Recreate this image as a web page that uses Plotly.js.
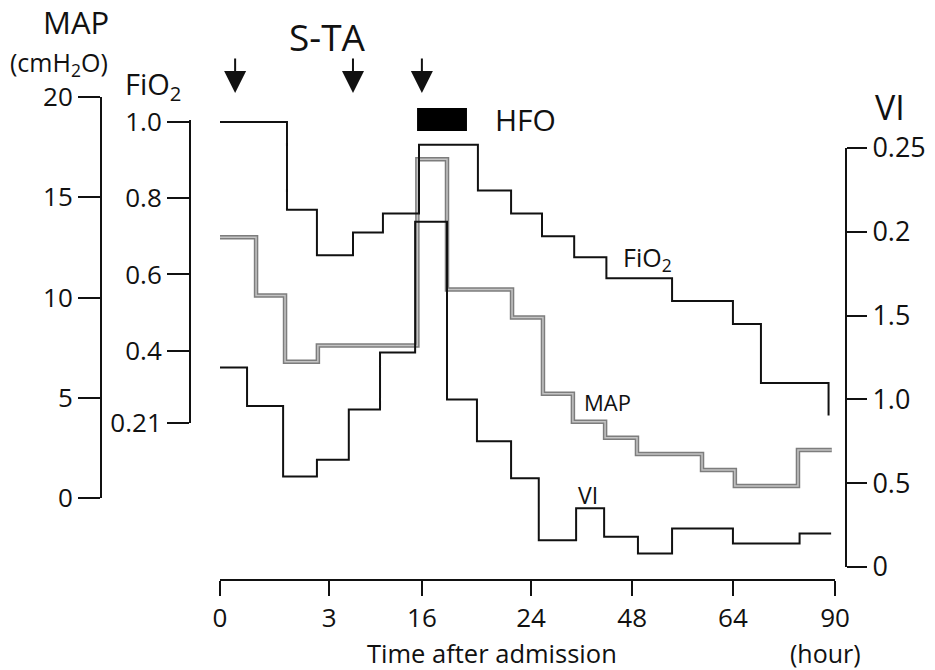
<!DOCTYPE html>
<html>
<head>
<meta charset="utf-8">
<script src="https://cdn.plot.ly/plotly-3.0.1.min.js"></script>
<style>html,body{margin:0;padding:0;background:#fff}#chart{width:935px;height:670px}</style>
</head>
<body>
<div id="chart"></div>
<script>
// ---- Data (x in sampling-slot units along the time axis) ----
const timeTickPos = [0, 3.39, 6.27, 9.66, 12.8, 15.93, 19.1];
const timeTickLabels = ['0', '3', '16', '24', '48', '64', '90'];

const fio2X = [0, 2.08, 3.01, 4.13, 5.06, 6.18, 8.01, 9.04, 10.0, 11.0, 12.0, 14.04, 15.93, 16.8, 18.9];
const fio2Y = [1.0, 0.77, 0.65, 0.71, 0.76, 0.94, 0.82, 0.76, 0.70, 0.645, 0.59, 0.53, 0.47, 0.315, 0.23];

const mapX = [0, 1.12, 2.02, 3.04, 6.13, 7.05, 9.07, 10.03, 10.96, 11.96, 12.95, 14.97, 15.99, 17.95, 19.0];
const mapY = [13.0, 10.1, 6.8, 7.6, 16.9, 10.4, 9.0, 5.2, 3.8, 3.0, 2.2, 1.4, 0.6, 2.4, 2.4];

const viX = [0, 0.84, 1.96, 3.01, 4.0, 4.97, 6.06, 7.05, 7.98, 9.04, 9.9, 11.06, 11.93, 12.98, 14.04, 15.93, 18.0, 18.98];
const viY = [1.19, 0.96, 0.54, 0.64, 0.94, 1.28, 2.06, 1.0, 0.75, 0.53, 0.16, 0.35, 0.18, 0.08, 0.23, 0.14, 0.20, 0.20];

const mapTicks = [0, 5, 10, 15, 20];
const mapTickLabels = ['0', '5', '10', '15', '20'];
const fio2Ticks = [0.21, 0.4, 0.6, 0.8, 1.0];
const fio2TickLabels = ['0.21', '0.4', '0.6', '0.8', '1.0'];
const viTicks = [0, 0.5, 1.0, 1.5, 2.0, 2.5];
const viTickLabels = ['0', '0.5', '1.0', '1.5', '0.2', '0.25'];

const staX = [0.47, 4.13, 6.27];      // S-TA administrations
const hfoPeriod = [6.12, 7.67];        // HFO period

// ---- Layout helpers (pixel -> paper) ----
const W = 935, H = 670;
const fx = p => p / W;
const fy = p => 1 - p / H;
const FONT = 'Open Sans, Noto Sans, sans-serif';

const traces = [
  {x: fio2X, y: fio2Y, xaxis: 'x', yaxis: 'y2', mode: 'lines', line: {shape: 'hv', color: '#111', width: 2}, name: 'FiO2', hoverinfo: 'skip'},
  {x: mapX, y: mapY, xaxis: 'x', yaxis: 'y', mode: 'lines', line: {shape: 'hv', color: '#7d7d7d', width: 4.5}, name: 'MAP', hoverinfo: 'skip'},
  {x: mapX, y: mapY, xaxis: 'x', yaxis: 'y', mode: 'lines', line: {shape: 'hv', color: '#c4c4c4', width: 1.5}, name: 'MAP', hoverinfo: 'skip'},
  {x: viX, y: viY, xaxis: 'x', yaxis: 'y3', mode: 'lines', line: {shape: 'hv', color: '#111', width: 2}, name: 'VI', hoverinfo: 'skip'}
];

// FiO2 axis: 1.0 at y=122, 0.21 at y=423 (slightly padded at top)
const fTop = 1.004;
const fPxPerUnit = (423 - 122) / (1.0 - 0.21);
const fTopPx = 122 - (fTop - 1.0) * fPxPerUnit;

const axisCommon = {
  showgrid: false, zeroline: false, showline: true, linecolor: '#111', linewidth: 2,
  ticks: 'outside', tickcolor: '#111', tickwidth: 2, tickmode: 'array', fixedrange: true
};
const TICKFONT = {family: FONT, size: 26, color: '#111'};

function label(text, x, y, size, xanchor) {
  return {text: text, xref: 'paper', yref: 'paper', x: fx(x), y: fy(y),
          xanchor: xanchor || 'center', yanchor: 'middle', showarrow: false,
          font: {family: FONT, size: size, color: '#111'}};
}

const layout = {
  width: W, height: H,
  margin: {l: 0, r: 0, t: 0, b: 0},
  paper_bgcolor: '#fff', plot_bgcolor: 'rgba(0,0,0,0)',
  showlegend: false,
  font: {family: FONT, color: '#111'},
  xaxis: Object.assign({}, axisCommon, {
    domain: [fx(220), fx(835)], range: [0, 19.1],
    anchor: 'free', position: fy(580),
    tickvals: timeTickPos, ticktext: timeTickLabels, ticklen: 15,
    tickfont: TICKFONT
  }),
  yaxis: Object.assign({}, axisCommon, {
    domain: [fy(498), fy(97)], range: [0, 20],
    anchor: 'free', position: fx(101), side: 'left',
    tickvals: mapTicks, ticktext: mapTickLabels, ticklen: 22,
    tickfont: TICKFONT
  }),
  yaxis2: Object.assign({}, axisCommon, {
    domain: [fy(423), fy(fTopPx)], range: [0.21, fTop],
    anchor: 'free', position: fx(190), side: 'left',
    tickvals: fio2Ticks, ticktext: fio2TickLabels, ticklen: 22,
    tickfont: TICKFONT
  }),
  yaxis3: Object.assign({}, axisCommon, {
    domain: [fy(567), fy(148)], range: [0, 2.5],
    anchor: 'free', position: fx(846), side: 'right',
    tickvals: viTicks, ticktext: viTickLabels, ticklen: 20,
    tickfont: {family: FONT, size: 27, color: '#111'}
  }),
  shapes: [
    {type: 'rect', xref: 'x', yref: 'paper', x0: hfoPeriod[0], x1: hfoPeriod[1], y0: fy(131), y1: fy(108),
     fillcolor: '#000', line: {width: 0}}
  ],
  annotations: [
    label('MAP', 76, 22, 31),
    label('(cmH<sub>2</sub>O)', 59, 63, 25),
    label('FiO<sub>2</sub>', 123, 85, 29, 'left'),
    label('S-TA', 327, 37, 37),
    label('HFO', 493, 120, 30, 'left'),
    label('VI', 890, 107, 34),
    label('FiO<sub>2</sub>', 621, 259, 25, 'left'),
    label('MAP', 582, 402, 22, 'left'),
    label('VI', 576, 495, 23, 'left'),
    label('Time after admission', 492, 653, 25.5),
    label('(hour)', 825, 653, 25)
  ].concat(staX.map(v => ({
    text: '', xref: 'x', yref: 'paper', x: v, y: fy(93), ax: 0, ay: -36,
    showarrow: true, arrowhead: 2, arrowsize: 2.2, arrowwidth: 2, arrowcolor: '#111'
  })))
};

Plotly.newPlot('chart', traces, layout, {displayModeBar: false, staticPlot: true});
</script>
</body>
</html>
